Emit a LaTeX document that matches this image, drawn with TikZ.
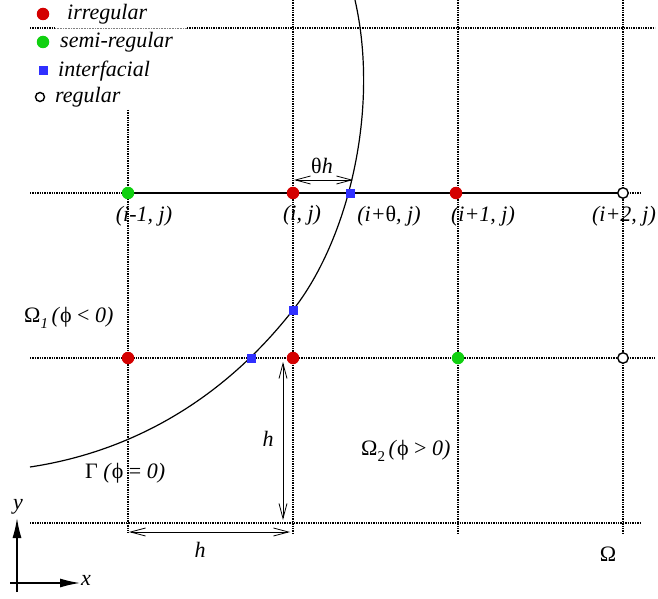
\documentclass[tikz,border=0pt]{standalone}
\usepackage{fontspec}
\setmainfont{Liberation Serif}
\usetikzlibrary{arrows.meta}
\definecolor{ptred}{HTML}{D40000}
\definecolor{ptgreen}{HTML}{10D010}
\definecolor{ptblue}{HTML}{3030FF}
\tikzset{
  grid/.style={densely dotted, line width=1.4pt},
  irr/.style={circle, fill=ptred, inner sep=0pt, minimum size=12.5pt},
  semi/.style={circle, fill=ptgreen, inner sep=0pt, minimum size=12.5pt},
  intf/.style={rectangle, fill=ptblue, inner sep=0pt, minimum size=9pt},
  reg/.style={circle, draw=black, fill=white, line width=1.4pt, inner sep=0pt, minimum size=10.5pt},
  lab/.style={font=\fontsize{22}{26}\selectfont, inner sep=0pt},
  dim/.style={line width=0.8pt, {Straight Barb[length=15pt,width=8pt]}-{Straight Barb[length=15pt,width=8pt]}},
  axis/.style={line width=1.4pt, -{Latex[length=20pt,width=9pt]}}
}
\begin{document}
\begin{tikzpicture}[x=1pt,y=-1pt]
\useasboundingbox (0,0) rectangle (658,599);
% grid
\draw[grid] (30,28) -- (55,28);
\draw[grid, line width=0.6pt, gray] (55,28) -- (187,28);
\draw[grid] (187,28) -- (655,28);
\draw[grid] (30,193) -- (640,193);
\draw[grid] (30,358) -- (655,358);
\draw[grid] (30,523) -- (640,523);
\draw[grid] (128,110) -- (128,533);
\draw[grid] (293,0) -- (293,535);
\draw[grid] (458,0) -- (458,535);
\draw[grid] (623,0) -- (623,535);
% thick line
\draw[line width=1.3pt] (128,193) -- (623,193);
% interface
\draw[line width=1.2pt] (355,0) .. controls (380,110) and (348,240) .. (293,310)
  .. controls (210,416) and (110,455) .. (30,467);
% legend
\node[irr] (l1) at (43,14) {};
\node[lab, anchor=west] (t1) at (67,14) {\textit{irregular}};
\node[semi] (l2) at (43,42) {};
\node[lab, anchor=west] (t2) at (60,42) {\textit{semi-regular}};
\node[intf] (l3) at (43,71) {};
\node[lab, anchor=west] (t3) at (58,71) {\textit{interfacial}};
\node[reg, minimum size=9pt] (l4) at (40,97) {};
\node[lab, anchor=west] (t4) at (55,97) {\textit{regular}};
% points
\node[semi] (p1) at (128,193) {};
\node[irr] (p2) at (293,193) {};
\node[intf] (p3) at (350,193) {};
\node[irr] (p4) at (456,193) {};
\node[reg] (p5) at (623,193) {};
\node[irr] (q1) at (128,358) {};
\node[intf] (q2) at (251,358) {};
\node[irr] (q3) at (293,358) {};
\node[semi] (q4) at (458,358) {};
\node[reg] (q5) at (623,358) {};
\node[intf] (r1) at (293,310) {};
% point labels
\node[lab] (n1) at (144,216) {\textit{(i-1, j)}};
\node[lab] (n2) at (302,215) {\textit{(i, j)}};
\node[lab] (n3) at (389,216) {\textit{(i+}θ\textit{, j)}};
\node[lab] (n4) at (483,216) {\textit{(i+1, j)}};
\node[lab] (n5) at (624,216) {\textit{(i+2, j)}};
% theta h
\coordinate (a1) at (294,180);
\coordinate (a2) at (353,180);
\draw[dim] (a1) -- (a2);
\node[lab] (th) at (322,166) {θ\textit{h}};
% vertical h
\coordinate (b1) at (283,362);
\coordinate (b2) at (283,520);
\draw[dim] (b1) -- (b2);
\node[lab] (hv) at (268,439) {\textit{h}};
% horizontal h
\coordinate (c1) at (129,532);
\coordinate (c2) at (290,532);
\draw[dim] (c1) -- (c2);
\node[lab] (hh) at (200,550) {\textit{h}};
% region labels
\node[lab, anchor=west] (o1) at (24,318) {Ω\raisebox{-6pt}{\fontsize{15}{16}\selectfont\textit{1}}\,\textit{(}ϕ < \textit{0)}};
\node[lab, anchor=west] (g) at (85,473) {Γ \textit{(}ϕ = \textit{0)}};
\node[lab, anchor=west] (o2) at (361,451) {Ω\raisebox{-6pt}{\fontsize{15}{16}\selectfont 2}\,\textit{(}ϕ > \textit{0)}};
\node[lab] (om) at (608,554) {Ω};
% axes
\coordinate (o) at (17,583);
\coordinate (ox) at (80,583);
\coordinate (oy) at (17,518);
\coordinate (ob) at (17,592);
\coordinate (ol) at (10,583);
\draw[line width=1.4pt] (ol) -- (o);
\draw[line width=1.4pt] (ob) -- (o);
\draw[axis] (o) -- (ox);
\draw[axis] (o) -- (oy);
\node[lab] (xl) at (86,580) {\textit{x}};
\node[lab] (yl) at (18,507) {\textit{y}};
\end{tikzpicture}
\end{document}
